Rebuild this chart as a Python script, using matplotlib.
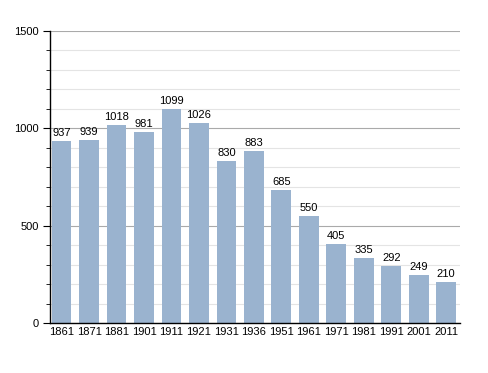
import matplotlib
matplotlib.use("Agg")
import matplotlib.pyplot as plt
from matplotlib.ticker import MultipleLocator

years = ["1861", "1871", "1881", "1901", "1911", "1921", "1931", "1936",
         "1951", "1961", "1971", "1981", "1991", "2001", "2011"]
population = [937, 939, 1018, 981, 1099, 1026, 830, 883,
              685, 550, 405, 335, 292, 249, 210]

fig = plt.figure(figsize=(4.88, 3.73), dpi=100)
ax = fig.add_axes([0.1025, 0.134, 0.840, 0.783])

x = range(len(years))
ax.bar(x, population, width=0.72, color="#9ab3cf", zorder=2)

for i, v in zip(x, population):
    ax.text(i, v + 15, str(v), ha="center", va="bottom", fontsize=8,
            family="Liberation Sans", zorder=3)

ax.set_xlim(-0.42, len(years) - 0.5)
ax.set_ylim(0, 1500)
ax.yaxis.set_major_locator(MultipleLocator(500))
ax.yaxis.set_minor_locator(MultipleLocator(100))
ax.grid(axis="y", which="major", color="#aaaaaa", linewidth=0.8, zorder=0)
ax.grid(axis="y", which="minor", color="#e4e4e4", linewidth=0.8, zorder=0)

ax.set_xticks(list(x))
ax.set_xticklabels(years)
ax.tick_params(axis="x", length=0, labelsize=8, pad=3)
ax.tick_params(axis="y", which="major", length=5, labelsize=8, pad=3)
ax.tick_params(axis="y", which="minor", length=3)
for lbl in ax.get_xticklabels() + ax.get_yticklabels():
    lbl.set_family("Liberation Sans")

ax.spines["top"].set_visible(False)
ax.spines["right"].set_visible(False)
ax.spines["left"].set_linewidth(1.0)
ax.spines["bottom"].set_linewidth(1.0)

fig.savefig("out.png", dpi=100)
